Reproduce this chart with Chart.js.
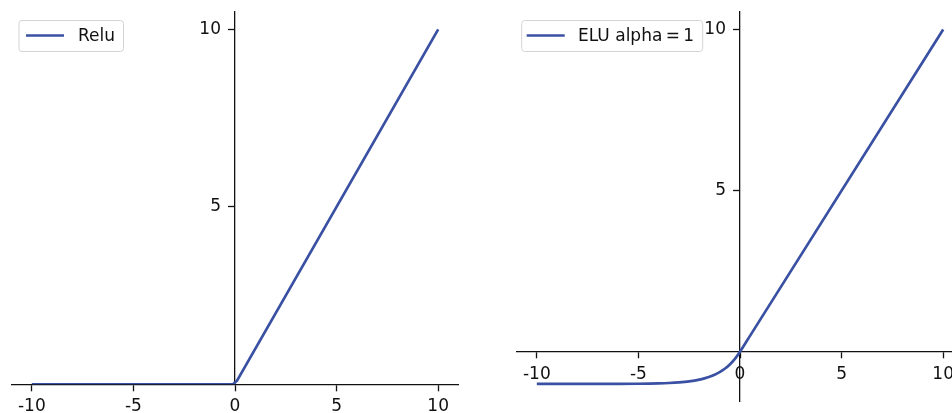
<!DOCTYPE html>
<html>
<head>
<meta charset="utf-8">
<script src="https://cdn.jsdelivr.net/npm/chart.js@4"></script>
<style>
  html, body { margin: 0; padding: 0; background: #fff; overflow: hidden; width: 952px; height: 413px; }
  .box { position: absolute; top: 0; height: 413px; width: 470px; }
</style>
</head>
<body>
<div class="box" style="left:0px"><canvas id="relu" width="470" height="413"></canvas></div>
<div class="box" style="left:505px"><canvas id="elu" width="470" height="413"></canvas></div>
<script>
// values
var xTicks = [-10, -5, 0, 5, 10];
var yTicks = [5, 10];

var reluLabel = 'Relu';
var reluX = [-10, -0.1, 0.1, 10];
var reluY = [0, 0, 0.1, 10];

var eluLabel = 'ELU alpha\u2009=\u20091';
var eluX = [-10, -9, -8, -7, -6, -5, -4.5, -4, -3.5, -3, -2.5, -2, -1.75, -1.5, -1.25, -1, -0.75, -0.5, -0.25, 0, 0.5, 10];
var eluY = [-1.0, -1.0, -1.0, -0.999, -0.998, -0.993, -0.989, -0.982, -0.970, -0.950, -0.918, -0.865, -0.826, -0.777, -0.713, -0.632, -0.528, -0.393, -0.221, 0, 0.5, 10];

var lineColor = '#3a51a3';
var tickFont = { family: 'DejaVu Sans', size: 17 };

Chart.defaults.font.family = 'DejaVu Sans';
Chart.defaults.color = '#111';

function pts(xs, ys) {
  return xs.map(function (x, i) { return { x: x, y: ys[i] }; });
}

// matplotlib-like legend box inside the axes
var boxLegend = {
  id: 'boxLegend',
  afterDraw: function (chart, args, opts) {
    var ctx = chart.ctx;
    var area = chart.chartArea;
    var ds = chart.data.datasets[0];
    ctx.save();
    ctx.font = '17px "DejaVu Sans"';
    var tw = ctx.measureText(ds.label).width;
    var bx = area.left + opts.dx, by = 20.5, bh = 31;
    var textX = bx + opts.pad + 38 + opts.gap;
    var bw = textX - bx + tw + 8.5;
    ctx.beginPath();
    ctx.roundRect(bx, by, bw, bh, 3);
    ctx.fillStyle = 'rgba(255,255,255,0.8)';
    ctx.fill();
    ctx.strokeStyle = '#d4d4d4';
    ctx.lineWidth = 1;
    ctx.stroke();
    ctx.beginPath();
    ctx.moveTo(bx + opts.pad, by + 15);
    ctx.lineTo(bx + opts.pad + 38, by + 15);
    ctx.strokeStyle = ds.borderColor;
    ctx.lineWidth = ds.borderWidth;
    ctx.stroke();
    ctx.fillStyle = '#111';
    ctx.textBaseline = 'middle';
    ctx.fillText(ds.label, textX, by + 16);
    ctx.restore();
  }
};

function makeChart(id, label, data, yMin, yMax, padBottom, smooth, leg) {
  return new Chart(document.getElementById(id), {
    type: 'line',
    data: {
      datasets: [{
        label: label,
        data: data,
        borderColor: lineColor,
        borderWidth: 2.7,
        pointRadius: 0,
        fill: false,
        cubicInterpolationMode: smooth ? 'monotone' : 'default',
        tension: 0
      }]
    },
    options: {
      responsive: false,
      animation: false,
      layout: { padding: { left: 11.5, right: 11.5, top: 11.7, bottom: padBottom } },
      plugins: { legend: { display: false }, tooltip: { enabled: false }, boxLegend: leg },
      scales: {
        x: {
          type: 'linear',
          min: -11, max: 11,
          position: { y: 0 },
          afterBuildTicks: function (s) { s.ticks = xTicks.map(function (v) { return { value: v }; }); },
          afterFit: function (s) { s.height = 0; s.paddingLeft = 0; s.paddingRight = 0; s.paddingTop = 0; s.paddingBottom = 0; },
          grid: { display: true, drawOnChartArea: false, drawTicks: true, tickLength: 6, tickColor: '#111', tickWidth: 1.3 },
          border: { color: '#111', width: 1.3 },
          ticks: { font: tickFont, color: '#111', padding: 6.5, maxRotation: 0, callback: function (v) { return String(v); } }
        },
        y: {
          type: 'linear',
          min: yMin, max: yMax,
          position: 'center',
          afterBuildTicks: function (s) { s.ticks = yTicks.map(function (v) { return { value: v }; }); },
          afterFit: function (s) { s.width = 0; s.paddingLeft = 0; s.paddingRight = 0; s.paddingTop = 0; s.paddingBottom = 0; },
          grid: { display: true, drawOnChartArea: false, drawTicks: true, tickLength: 6, tickColor: '#111', tickWidth: 1.3 },
          border: { color: '#111', width: 1.3 },
          ticks: { font: tickFont, color: '#111', padding: 8, callback: function (v) { return String(v); } }
        }
      }
    },
    plugins: [boxLegend]
  });
}

makeChart('relu', reluLabel, pts(reluX, reluY), 0, 10.5, 28.7, false, { dx: 7.5, pad: 7, gap: 14 });
makeChart('elu', eluLabel, pts(eluX, eluY), -1.55, 10.55, 11.3, true, { dx: 5.2, pad: 5, gap: 13.3 });
</script>
</body>
</html>
